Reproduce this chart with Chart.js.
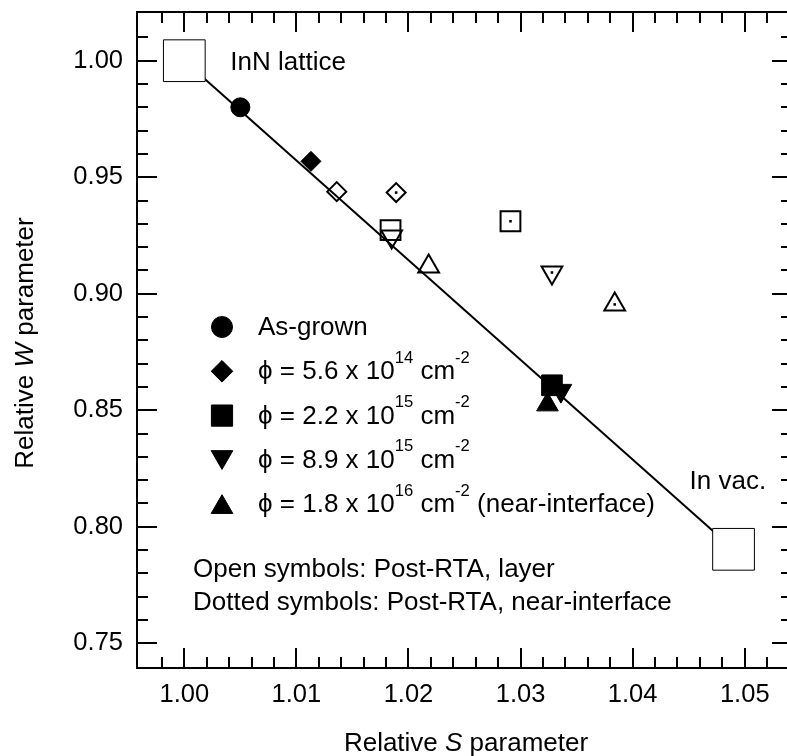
<!DOCTYPE html>
<html>
<head>
<meta charset="utf-8">
<script src="https://cdn.jsdelivr.net/npm/chart.js@4.4.1/dist/chart.umd.min.js"></script>
<style>
  html, body { margin: 0; padding: 0; background: #fff; }
  canvas { display: block; }
</style>
</head>
<body>
<canvas id="chart" width="787" height="756"></canvas>
<script>
// relative S / W values
const refS = [1.000, 1.0490];
const refW = [1.000, 0.7903];
const refNames = ["InN lattice", "In vac."];

const asGrownS = [1.0050];
const asGrownW = [0.9800];

// irradiated, order: 5.6e14, 2.2e15, 8.9e15, 1.8e16
const irradS = [1.0113, 1.0328, 1.0336, 1.0324];
const irradW = [0.9568, 0.8607, 0.8584, 0.8524];

// post-RTA, layer (open symbols)
const layerS = [1.0136, 1.0184, 1.0185, 1.0218];
const layerW = [0.9438, 0.9273, 0.9246, 0.9117];

// post-RTA, near-interface (dotted symbols)
const interfaceS = [1.0189, 1.0291, 1.0328, 1.0384];
const interfaceW = [0.9434, 0.9311, 0.9091, 0.8954];

const fluenceMant = ["5.6", "2.2", "8.9", "1.8"];
const fluenceExp = ["14", "15", "15", "16"];
const fluenceNote = ["", "", "", " (near-interface)"];

const xTicks = [1.00, 1.01, 1.02, 1.03, 1.04, 1.05];
const yTicks = [0.75, 0.80, 0.85, 0.90, 0.95, 1.00];
const xMinorStep = 0.002;
const yMinorStep = 0.01;

const xMin = 0.99578, xMax = 1.05377;
const yMin = 0.73936, yMax = 1.0209;

// marker styles per fluence
const fluenceStyles = ["rectRot", "rect", "triangle", "triangle"];
const fluenceRot = [0, 0, 180, 0];
const filledRadius = [10, 14.6, 12.5, 12.5];
const openRadius = [9.5, 14, 12, 12];

const FONT = '"Liberation Sans", Arial, Helvetica, sans-serif';

function pts(xs, ys) { return xs.map((x, i) => ({ x: x, y: ys[i] })); }

function drawRich(ctx, parts, x, y, size, align) {
    const supSize = size * 0.64;
    const fontFor = p => (p.italic ? "italic " : "") + (p.sup ? supSize : size) + "px " + FONT;
    let total = 0;
    parts.forEach(p => { ctx.font = fontFor(p); total += ctx.measureText(p.t).width; });
    let cx = align === "center" ? x - total / 2 : x;
    ctx.textAlign = "left";
    ctx.textBaseline = "alphabetic";
    parts.forEach(p => {
        ctx.font = fontFor(p);
        ctx.fillText(p.t, cx, p.sup ? y - size * 0.64 : y);
        cx += ctx.measureText(p.t).width;
    });
}

const framePlugin = {
    id: "frame",
    afterDraw(chart) {
        const ctx = chart.ctx, a = chart.chartArea;
        const xs = chart.scales.x, ys = chart.scales.y;
        const rightX = a.right + 5; // right frame sits just past the canvas edge
        ctx.save();
        ctx.strokeStyle = "#000";
        ctx.lineWidth = 2;
        ctx.beginPath();
        ctx.moveTo(a.left, a.top - 1); ctx.lineTo(a.left, a.bottom + 1);
        ctx.moveTo(a.left - 1, a.bottom); ctx.lineTo(a.right, a.bottom);
        ctx.moveTo(a.left - 1, a.top); ctx.lineTo(a.right, a.top);
        ctx.stroke();

        ctx.beginPath();
        for (let k = Math.ceil(xMin / xMinorStep); k * xMinorStep <= xMax + 1e-9; k++) {
            const v = k * xMinorStep;
            const major = xTicks.some(t => Math.abs(t - v) < 1e-6);
            const len = major ? 20 : 11;
            const px = Math.round(xs.getPixelForValue(v));
            if (px < a.left + 4 || px > rightX - 4) continue;
            ctx.moveTo(px, a.bottom); ctx.lineTo(px, a.bottom - len);
            ctx.moveTo(px, a.top); ctx.lineTo(px, a.top + len);
        }
        for (let k = Math.ceil(yMin / yMinorStep); k * yMinorStep <= yMax + 1e-9; k++) {
            const v = k * yMinorStep;
            const major = yTicks.some(t => Math.abs(t - v) < 1e-6);
            const len = major ? 20 : 11;
            const py = Math.round(ys.getPixelForValue(v));
            if (py < a.top + 4 || py > a.bottom - 4) continue;
            ctx.moveTo(a.left, py); ctx.lineTo(a.left + len, py);
            ctx.moveTo(rightX, py); ctx.lineTo(rightX - len, py);
        }
        ctx.stroke();
        ctx.restore();
    }
};

const notesPlugin = {
    id: "notes",
    afterDraw(chart) {
        const ctx = chart.ctx;
        const xs = chart.scales.x, ys = chart.scales.y;
        ctx.save();
        ctx.fillStyle = "#000";
        ctx.strokeStyle = "#000";

        // axis titles
        drawRich(ctx, [{ t: "Relative " }, { t: "S", italic: true }, { t: " parameter" }], 466, 751, 26, "center");
        ctx.save();
        ctx.translate(33, 343);
        ctx.rotate(-Math.PI / 2);
        drawRich(ctx, [{ t: "Relative " }, { t: "W", italic: true }, { t: " parameter" }], 0, 0, 26, "center");
        ctx.restore();

        // labels next to the reference squares
        drawRich(ctx, [{ t: refNames[0] }], xs.getPixelForValue(refS[0]) + 46, ys.getPixelForValue(refW[0]) + 9, 26, "left");
        drawRich(ctx, [{ t: refNames[1] }], xs.getPixelForValue(refS[1]) - 44, ys.getPixelForValue(refW[1]) - 60, 26, "left");

        // legend
        const lx = 222, tx = 258;
        const rows = [[{ t: "As-grown" }]];
        fluenceMant.forEach((m, i) => {
            rows.push([{ t: "\u03D5 = " + m + " x 10" }, { t: fluenceExp[i], sup: true },
                       { t: " cm" }, { t: "-2", sup: true }, { t: fluenceNote[i] }]);
        });
        const legendStyles = ["circle"].concat(fluenceStyles);
        const legendRot = [0].concat(fluenceRot);
        const legendRad = [10.5, 10.8, 15, 12.5, 12.5];
        const drawPoint = Chart.helpers.drawPoint;
        ctx.lineWidth = 1;
        rows.forEach((r, i) => {
            const base = 335 + i * 44.3;
            let my = base - 8;
            if (legendStyles[i] === "triangle") my += legendRot[i] ? -3 : 3;
            drawPoint(ctx, { pointStyle: legendStyles[i], radius: legendRad[i], rotation: legendRot[i], borderWidth: 1 }, lx, my);
            drawRich(ctx, r, tx, base, 26, "left");
        });

        drawRich(ctx, [{ t: "Open symbols: Post-RTA, layer" }], 193, 577, 26, "left");
        drawRich(ctx, [{ t: "Dotted symbols: Post-RTA, near-interface" }], 193, 610, 26, "left");
        ctx.restore();
    }
};

const tickFont = { family: FONT, size: 25.5 };

new Chart(document.getElementById("chart"), {
    type: "scatter",
    data: {
        datasets: [
            { label: "ref line", data: pts(refS, refW), showLine: true, borderColor: "#000", borderWidth: 2,
              pointRadius: 0, order: 10 },
            { label: "references", data: pts(refS, refW), pointStyle: "rect", pointRadius: 29.5,
              pointBackgroundColor: "#fff", pointBorderColor: "#000", pointBorderWidth: 1, order: 9 },
            { label: "As-grown", data: pts(asGrownS, asGrownW), pointStyle: "circle", pointRadius: 9.5,
              pointBackgroundColor: "#000", pointBorderColor: "#000", pointBorderWidth: 1, order: 1 },
            { label: "irradiated", data: pts(irradS, irradW), pointStyle: fluenceStyles, pointRotation: fluenceRot,
              pointRadius: filledRadius, pointBackgroundColor: "#000", pointBorderColor: "#000", pointBorderWidth: 1, order: 1 },
            { label: "post-RTA layer", data: pts(layerS, layerW), pointStyle: fluenceStyles, pointRotation: fluenceRot,
              pointRadius: openRadius, pointBackgroundColor: "rgba(0,0,0,0)", pointBorderColor: "#000", pointBorderWidth: 2, order: 2 },
            { label: "post-RTA near-interface", data: pts(interfaceS, interfaceW), pointStyle: fluenceStyles, pointRotation: fluenceRot,
              pointRadius: openRadius, pointBackgroundColor: "rgba(0,0,0,0)", pointBorderColor: "#000", pointBorderWidth: 2, order: 2 },
            { label: "near-interface dots", data: pts(interfaceS, interfaceW), pointStyle: "rect", pointRadius: 1.8,
              pointBackgroundColor: "#000", pointBorderWidth: 0, order: 0 }
        ]
    },
    options: {
        responsive: false,
        animation: false,
        events: [],
        layout: { autoPadding: false, padding: { top: 12, left: 0, right: 0, bottom: 0 } },
        plugins: { legend: { display: false }, tooltip: { enabled: false } },
        scales: {
            x: {
                type: "linear", position: "bottom", min: xMin, max: xMax,
                grid: { display: false, drawTicks: false }, border: { display: false },
                ticks: { color: "#000", font: tickFont, padding: 12, maxRotation: 0, autoSkip: false,
                         callback: v => v.toFixed(2) },
                afterBuildTicks: s => { s.ticks = xTicks.map(v => ({ value: v })); },
                afterFit: s => { s.height = 88; s.paddingLeft = 0; s.paddingRight = 0; }
            },
            y: {
                type: "linear", position: "left", min: yMin, max: yMax,
                grid: { display: false, drawTicks: false }, border: { display: false },
                ticks: { color: "#000", font: tickFont, padding: 14, autoSkip: false,
                         callback: v => v.toFixed(2) },
                afterBuildTicks: s => { s.ticks = yTicks.map(v => ({ value: v })); },
                afterFit: s => { s.width = 137; s.paddingTop = 0; s.paddingBottom = 0; }
            }
        }
    },
    plugins: [framePlugin, notesPlugin]
});
</script>
</body>
</html>
